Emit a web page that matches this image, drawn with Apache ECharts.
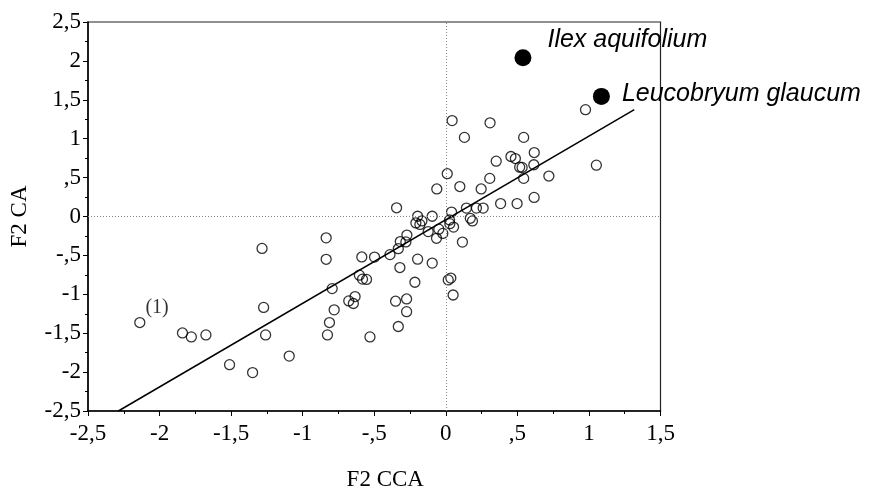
<!DOCTYPE html>
<html>
<head>
<meta charset="utf-8">
<script src="https://cdn.jsdelivr.net/npm/echarts@6/dist/echarts.min.js"></script>
<style>
html,body{margin:0;padding:0;background:#fff;}
#chart{width:876px;height:496px;}
</style>
</head>
<body>
<div id="chart"></div>
<script>
// Open-circle sample points (F2 CCA, F2 CA)
var ptsX = [0.044,0.309,0.130,0.544,0.618,0.455,0.486,0.352,0.516,0.533,0.615,0.010,0.720,0.544,0.307,-0.063,0.098,0.247,0.617,0.383,0.498,0.976,1.052,-0.344,-0.197,-0.095,0.040,0.144,0.214,0.261,0.171,0.186,-0.209,-0.181,-0.167,0.026,0.028,0.054,-0.123,-0.049,-0.021,-0.065,-0.272,-0.318,-0.279,-0.332,-0.390,-0.498,0.116,-0.197,-0.095,-0.321,-0.216,0.017,0.035,0.051,-0.351,-0.274,-0.274,-0.332,-0.587,-0.836,-0.836,-0.604,-0.582,-0.554,-0.794,-0.634,-0.678,-0.646,-0.780,-0.813,-0.827,-0.530,-1.094,-1.284,-2.138,-1.840,-1.778,-1.676,-1.273,-1.259,-1.511,-1.350];
var ptsY = [1.233,1.204,1.017,1.017,0.822,0.771,0.745,0.711,0.634,0.631,0.665,0.550,0.520,0.490,0.490,0.354,0.385,0.354,0.245,0.166,0.166,1.373,0.660,0.112,0.003,0.003,0.057,0.108,0.108,0.108,-0.023,-0.057,-0.083,-0.102,-0.057,-0.045,-0.092,-0.136,-0.194,-0.163,-0.217,-0.280,-0.239,-0.322,-0.327,-0.414,-0.490,-0.522,-0.329,-0.548,-0.599,-0.656,-0.845,-0.815,-0.792,-1.009,-1.089,-1.060,-1.223,-1.414,-0.520,-0.274,-0.550,-0.754,-0.805,-0.809,-0.927,-1.029,-1.085,-1.118,-1.200,-1.363,-1.522,-1.548,-1.794,-0.410,-1.363,-1.497,-1.548,-1.522,-1.169,-1.522,-1.904,-2.006];
var labelledIndex = 76;       // point marked "(1)"
var labelledText = '(1)';

// Highlighted species (filled)
var spNames = ['Ilex aquifolium', 'Leucobryum glaucum'];
var spX = [0.539, 1.087];
var spY = [2.041, 1.544];

// Regression line endpoints
var fitX = [-2.288, 1.317];
var fitY = [-2.5, 1.373];

// Axis ticks
var xTickLabels = ['-2,5','-2','-1,5','-1','-,5','0',',5','1','1,5'];
var yTickLabels = ['-2,5','-2','-1,5','-1','-,5','0',',5','1','1,5','2','2,5'];
var xMin = -2.5, xMax = 1.5, yMin = -2.5, yMax = 2.5, step = 0.5;

var serif = '"Liberation Serif","Times New Roman",serif';
var sans = '"Liberation Sans",Arial,sans-serif';

function fmt(labels, min) {
  return function (v) {
    var i = Math.round((v - min) / step);
    return labels[i] !== undefined ? labels[i] : '';
  };
}

var openData = ptsX.map(function (x, i) {
  var d = { value: [x, ptsY[i]] };
  if (i === labelledIndex) {
    d.label = { show: true, formatter: labelledText, position: 'right', distance: 0, offset: [0, -15],
      fontFamily: serif, fontSize: 20, color: '#000' };
  }
  return d;
});

var spLabelCfg = [
  { position: 'right', distance: 16, offset: [0, -18] },
  { position: 'right', distance: 12, offset: [0, -2] }
];
var spData = spX.map(function (x, i) {
  return { value: [x, spY[i]], name: spNames[i],
    label: Object.assign({ show: true, formatter: spNames[i], fontFamily: sans, fontStyle: 'italic',
      fontSize: 25, color: '#000' }, spLabelCfg[i]) };
});

var axisCommon = {
  type: 'value', interval: step,
  axisLine: { show: true, onZero: false, lineStyle: { color: '#000', width: 1.5 } },
  axisTick: { show: true, inside: false, length: 5, lineStyle: { color: '#000', width: 1 } },
  minorTick: { show: true, splitNumber: 2, length: 3, lineStyle: { color: '#000', width: 1 } },
  splitLine: { show: false },
  nameLocation: 'middle'
};

var chart = echarts.init(document.getElementById('chart'), null, { renderer: 'canvas' });
chart.setOption({
  animation: false,
  backgroundColor: '#fff',
  grid: { left: 87.5, right: 215.5, top: 22, bottom: 82, show: true, borderColor: '#222', borderWidth: 1.2, backgroundColor: 'transparent' },
  xAxis: Object.assign({}, axisCommon, {
    min: xMin, max: xMax, name: 'F2 CCA', nameGap: 57,
    nameTextStyle: { fontFamily: serif, fontSize: 23, color: '#000', padding: [0, 0, 0, 22] },
    axisLabel: { formatter: fmt(xTickLabels, xMin), fontFamily: serif, fontSize: 23, color: '#000', margin: 11 }
  }),
  yAxis: Object.assign({}, axisCommon, {
    min: yMin, max: yMax, name: 'F2 CA', nameGap: 57,
    nameTextStyle: { fontFamily: serif, fontSize: 23, color: '#000' },
    axisLabel: { formatter: fmt(yTickLabels, yMin), fontFamily: serif, fontSize: 23, color: '#000', margin: 7 }
  }),
  series: [
    {
      type: 'line', data: [[fitX[0], fitY[0]], [fitX[1], fitY[1]]], showSymbol: false, symbol: 'none',
      lineStyle: { color: '#000', width: 1.5 }, silent: true, z: 2,
      markLine: {
        silent: true, symbol: 'none', label: { show: false },
        lineStyle: { color: '#888', type: [1, 2], width: 1 },
        data: [{ xAxis: 0 }, { yAxis: 0 }]
      }
    },
    {
      type: 'scatter', data: openData, symbol: 'circle', symbolSize: 10,
      itemStyle: { color: 'rgba(255,255,255,0)', borderColor: '#000', borderWidth: 1.3 }, z: 3
    },
    {
      type: 'scatter', data: spData, symbol: 'circle', symbolSize: 17,
      itemStyle: { color: '#000', opacity: 1 }, z: 4
    }
  ]
});
</script>
</body>
</html>
